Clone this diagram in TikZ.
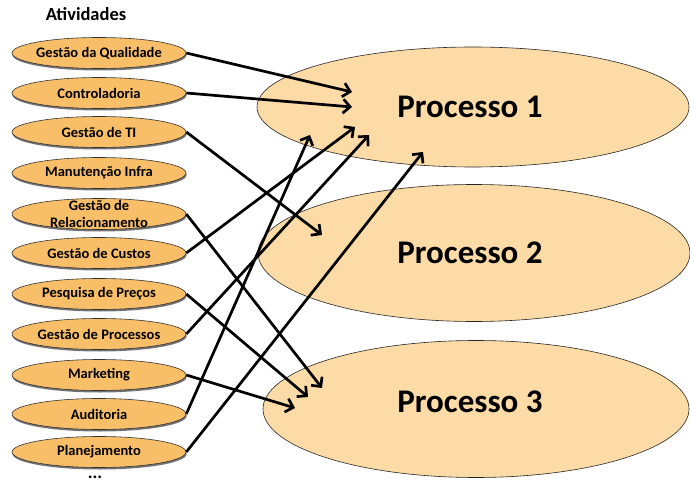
\documentclass[tikz,border=0pt]{standalone}
\usepackage{fontspec}
\setmainfont{Carlito}
\usetikzlibrary{shapes.geometric,arrows.meta,shadows,calc}
\definecolor{actfill}{RGB}{249,190,104}
\definecolor{procfill}{RGB}{252,219,167}
\begin{document}
\begin{tikzpicture}[x=1pt,y=-1pt,
  act/.style={ellipse, draw=black!80, line width=0.6pt, fill=actfill,
    minimum width=174pt, minimum height=31pt, inner sep=0pt,
    drop shadow={shadow xshift=0.6pt, shadow yshift=-2pt, fill=black, opacity=0.55},
    label={[actlabel]center:{#1}}},
  actlabel/.style={font=\bfseries\fontsize{14.5}{17}\selectfont, align=center, inner sep=0pt},
  proc/.style={ellipse, draw=black!85, line width=0.6pt, fill=procfill, inner sep=0pt},
  proctext/.style={font=\bfseries\fontsize{33}{40}\selectfont, inner sep=0pt},
  link/.style={line width=2.7pt, -{Straight Barb[length=7pt,width=14pt]}},
]
\useasboundingbox (0,0) rectangle (690,481);

% processes
\node[proc, minimum width=432pt, minimum height=120pt,
      label={[proctext,xshift=-3pt]center:Processo 1}] (p1) at (473,107) {};
\node[proc, minimum width=432pt, minimum height=137pt,
      label={[proctext,xshift=-4pt]center:Processo 2}] (p2) at (474,253) {};
\node[proc, minimum width=426pt, minimum height=137pt,
      label={[proctext,xshift=-6pt,yshift=7pt]center:Processo 3}] (p3) at (476,409) {};

% activities
\node[font=\bfseries\fontsize{18.5}{20}\selectfont] (title) at (86,14) {Atividades};
\node[act={Gestão da Qualidade}] (a1) at (99,53) {};
\node[act={Controladoria}] (a2) at (99,93) {};
\node[act={Gestão de TI}] (a3) at (99,132) {};
\node[act={Manutenção Infra}] (a4) at (99,173) {};
\node[act={Gestão de\\Relacionamento}] (a5) at (99,214) {};
\node[act={Gestão de Custos}] (a6) at (99,253) {};
\node[act={Pesquisa de Preços}] (a7) at (99,294) {};
\node[act={Gestão de Processos}] (a8) at (99,334) {};
\node[act={Marketing}] (a9) at (99,375) {};
\node[act={Auditoria}] (a10) at (99,414) {};
\node[act={Planejamento}] (a11) at (99,452) {};
\node[anchor=base, inner sep=0pt, text depth=0pt,
      font=\bfseries\fontsize{18}{20}\selectfont] (more) at (95,478.5) {...};

% arrow targets inside the processes
\coordinate (t1) at ($(p1.center)+(-121,-15)$);
\coordinate (t2) at ($(p1.center)+(-121,0)$);
\coordinate (t5) at ($(p1.center)+(-118,20)$);
\coordinate (t7) at ($(p1.center)+(-104,28)$);
\coordinate (t9) at ($(p1.center)+(-163,28)$);
\coordinate (t10) at ($(p1.center)+(-50,45)$);
\coordinate (t3) at ($(p2.center)+(-152,-18)$);
\coordinate (u1) at ($(p3.center)+(-154,-21)$);
\coordinate (u2) at ($(p3.center)+(-168,-12)$);
\coordinate (u3) at ($(p3.center)+(-181,-1)$);

% links
\draw[link] (a1.east) -- (t1);
\draw[link] (a2.east) -- (t2);
\draw[link] (a3.east) -- (t3);
\draw[link] (a5.east) -- (u1);
\draw[link] (a6.east) -- (t5);
\draw[link] (a7.east) -- (u2);
\draw[link] (a8.east) -- (t7);
\draw[link] (a9.east) -- (u3);
\draw[link] (a10.east) -- (t9);
\draw[link] (a11.east) -- (t10);
\end{tikzpicture}
\end{document}
